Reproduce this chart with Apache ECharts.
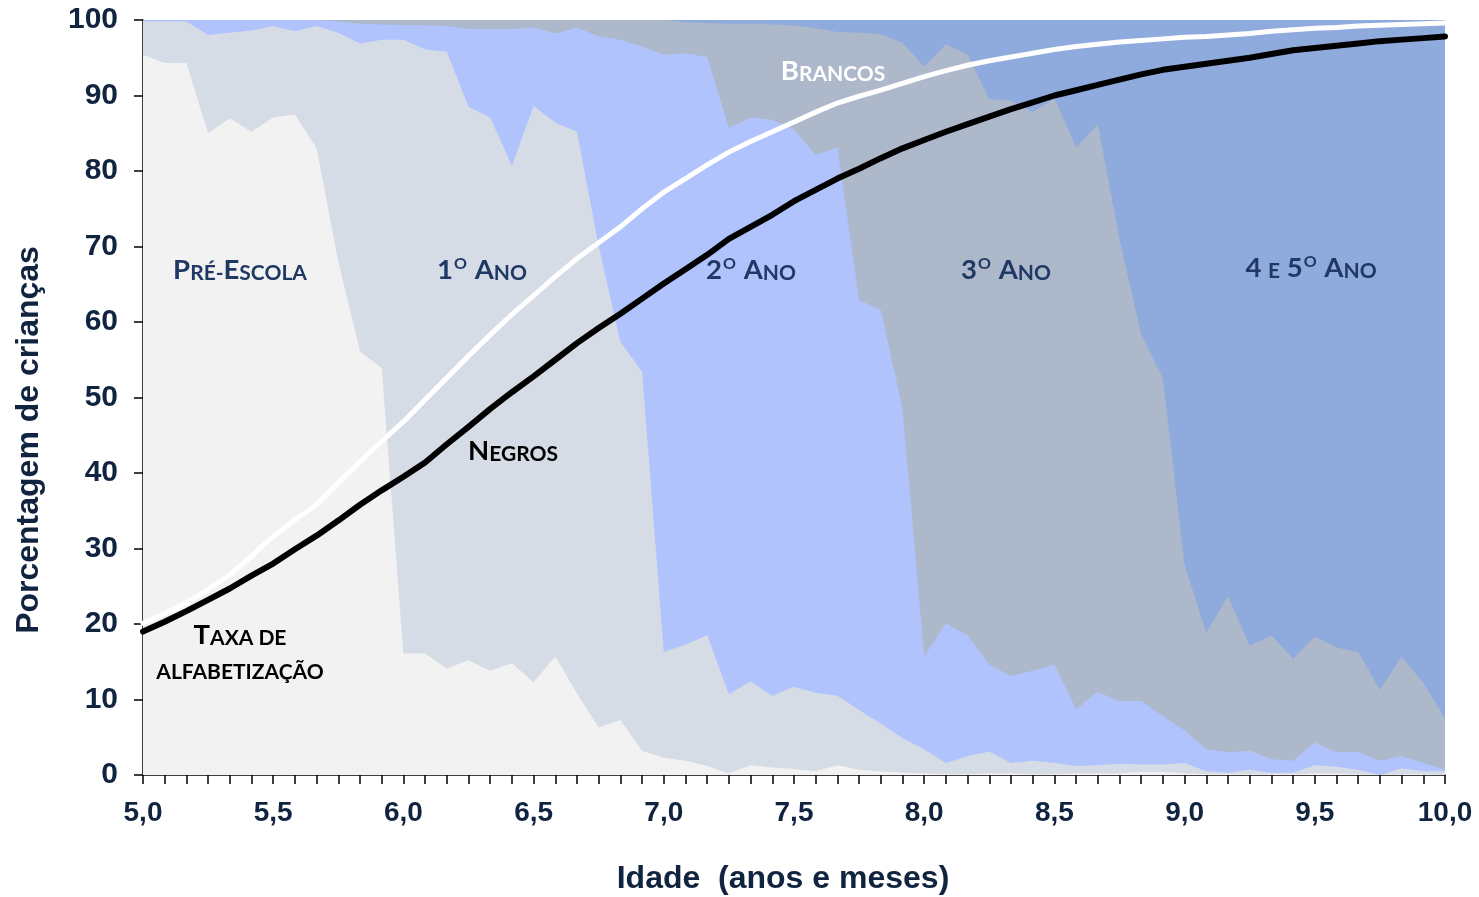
<!DOCTYPE html>
<html><head><meta charset="utf-8">
<script src="https://cdn.jsdelivr.net/npm/echarts@6/dist/echarts.min.js"></script>
<style>html,body{margin:0;padding:0;background:#fff}#c{width:1479px;height:897px}</style>
</head><body><div id="c"></div>
<script>
// Age in months (5,0 .. 10,0 years), one point per month
const ageMonths = [60,61,62,63,64,65,66,67,68,69,70,71,72,73,74,75,76,77,78,79,80,81,82,83,84,85,86,87,88,89,90,
  91,92,93,94,95,96,97,98,99,100,101,102,103,104,105,106,107,108,109,110,111,112,113,114,115,116,117,118,119,120];
const tickLabels = ['5,0','5,5','6,0','6,5','7,0','7,5','8,0','8,5','9,0','9,5','10,0'];
const yTicks = [0,10,20,30,40,50,60,70,80,90,100];

// Cumulative upper boundary (%) of each school level
const preEscolaTop = [95.4,94.3,94.3,85.0,87.0,85.2,87.1,87.5,83.0,68.0,
  56.1,53.9,16.1,16.1,14.1,15.2,13.8,14.8,12.3,15.7,
  10.8,6.3,7.3,3.2,2.3,1.9,1.2,0.2,1.3,1.0,
  0.8,0.5,1.3,0.7,0.5,0.3,0.2,0.1,0.1,0.2,
  0.2,0.1,0.1,0.2,0.2,0.2,0.4,0.4,0.2,0.1,
  0.1,0.1,0.1,0.1,0.2,0.2,0.1,0.0,0.1,0.1,0.1];
const ano1Top = [99.8,99.8,99.8,98.0,98.3,98.6,99.2,98.5,99.2,98.3,
  96.9,97.4,97.4,96.1,95.8,88.5,87.1,80.7,88.6,86.4,
  85.2,70.0,57.4,53.4,16.3,17.3,18.5,10.7,12.4,10.5,
  11.7,10.9,10.5,8.6,6.8,4.9,3.4,1.6,2.5,3.1,
  1.6,1.9,1.6,1.2,1.3,1.5,1.4,1.4,1.6,0.5,
  0.3,0.7,0.3,0.3,1.3,1.1,0.7,0.0,0.9,0.5,0.5];
const ano2Top = [100,100,100,100,100,100,100,100,100,99.8,
  99.5,99.4,99.3,99.3,99.2,98.8,98.8,98.8,99.0,98.2,
  99.0,97.8,97.4,96.5,95.4,95.6,95.1,85.7,87.1,86.8,
  85.5,82.1,83.1,62.9,61.6,48.5,15.7,20.1,18.5,14.6,
  13.1,13.8,14.6,8.7,11.0,9.8,9.8,7.8,5.9,3.4,
  3.0,3.2,2.1,1.9,4.3,3.0,3.0,1.9,2.5,1.6,0.7];
const ano3Top = [100,100,100,100,100,100,100,100,100,100,
  100,100,100,100,100,100,100,100,100,100,
  100,100,100,100,100,99.7,99.6,99.5,99.5,99.4,
  99.3,98.9,98.4,98.3,98.1,97.0,93.8,96.8,95.4,89.5,
  89.3,87.8,89.6,83.1,86.2,70.9,58.3,52.5,27.8,18.8,
  23.7,17.1,18.5,15.4,18.3,16.9,16.3,11.3,15.7,12.2,7.5];
const ano45Top = ageMonths.map(() => 100);

// Literacy rate (%)
const brancos = [20.1,21.4,22.8,24.6,26.5,29.0,31.6,33.8,35.8,38.7,
  41.5,44.2,46.8,49.7,52.6,55.5,58.3,61.0,63.5,66.0,
  68.4,70.5,72.6,75.0,77.2,79.0,80.8,82.5,83.9,85.2,
  86.5,87.8,89.0,89.9,90.7,91.6,92.5,93.3,94.0,94.6,
  95.1,95.6,96.1,96.5,96.8,97.1,97.3,97.5,97.7,97.8,
  98.0,98.2,98.5,98.7,98.9,99.0,99.2,99.3,99.4,99.5,99.6];
const negros = [19.0,20.3,21.7,23.2,24.7,26.4,28.0,29.9,31.7,33.7,
  35.8,37.7,39.5,41.4,43.8,46.1,48.5,50.7,52.8,55.0,
  57.2,59.2,61.1,63.1,65.1,67.0,68.9,71.0,72.6,74.2,
  76.0,77.5,79.0,80.3,81.7,83.0,84.1,85.2,86.2,87.2,
  88.2,89.1,90.0,90.7,91.4,92.1,92.8,93.4,93.8,94.2,
  94.6,95.0,95.5,96.0,96.3,96.6,96.9,97.2,97.4,97.6,97.8];

const TXT = '#10233f';
const LBL = '#1f3864';
const LF = 'Lato, "Open Sans", sans-serif';
const AF = '"Liberation Sans", Arial, sans-serif';

function rich(color) {
  return {
    c: {fill: color, fontSize: 27.5, fontWeight: 'bold', fontFamily: LF, verticalAlign: 'bottom'},
    s: {fill: color, fontSize: 21, fontWeight: 'bold', fontFamily: LF, verticalAlign: 'bottom'},
    u: {fill: color, fontSize: 16, fontWeight: 'bold', fontFamily: LF, verticalAlign: 'top', padding: [0, 1, 0, 1]}
  };
}
function lbl(x, y, text, color) {
  return {type: 'text', x: x, y: y, z: 100, silent: true,
    style: {text: text, align: 'center', verticalAlign: 'middle', rich: rich(color)}};
}

function area(name, data, color) {
  return {name: name, type: 'line', data: data, showSymbol: false, silent: true,
    lineStyle: {width: 0}, areaStyle: {color: color, opacity: 1}, itemStyle: {color: color}};
}

const chart = echarts.init(document.getElementById('c'), null, {renderer: 'canvas'});
chart.setOption({
  animation: false,
  backgroundColor: '#ffffff',
  grid: {left: 143, right: 34, top: 20, bottom: 122, containLabel: false},
  xAxis: {
    type: 'category', data: ageMonths, boundaryGap: false,
    axisLine: {show: true, lineStyle: {color: '#000', width: 1.5}},
    axisTick: {show: true, interval: 0, length: 9, lineStyle: {color: '#000', width: 1.5}},
    axisLabel: {interval: 5, margin: 24, color: TXT, fontSize: 28, fontWeight: 'bold', fontFamily: AF,
      formatter: (v, i) => tickLabels[i / 6] || ''},
    splitLine: {show: false}
  },
  yAxis: {
    type: 'value', min: 0, max: 100, interval: 10,
    axisLine: {show: true, lineStyle: {color: '#000', width: 1.5}},
    axisTick: {show: true, length: 9, lineStyle: {color: '#000', width: 1.5}},
    axisLabel: {margin: 25, color: TXT, fontSize: 30, fontWeight: 'bold', fontFamily: AF,
      formatter: v => yTicks.indexOf(v) >= 0 ? String(v) : ''},
    splitLine: {show: false}
  },
  series: [
    area('4 e 5º Ano', ano45Top, '#8faadc'),
    area('3º Ano', ano3Top, '#adb9ca'),
    area('2º Ano', ano2Top, '#b0c3fd'),
    area('1º Ano', ano1Top, '#d6dce5'),
    area('Pré-Escola', preEscolaTop, '#f2f2f2'),
    {name: 'Brancos', type: 'line', data: brancos, showSymbol: false, silent: true, z: 5,
      lineStyle: {color: '#ffffff', width: 5, cap: 'round', join: 'round'}},
    {name: 'Negros', type: 'line', data: negros, showSymbol: false, silent: true, z: 6,
      lineStyle: {color: '#000000', width: 6, cap: 'round', join: 'round'}}
  ],
  graphic: [
    lbl(240, 270, '{c|P}{s|RÉ-}{c|E}{s|SCOLA}', LBL),
    lbl(482, 270, '{c|1}{u|O}{c| A}{s|NO}', LBL),
    lbl(751, 270, '{c|2}{u|O}{c| A}{s|NO}', LBL),
    lbl(1006, 270, '{c|3}{u|O}{c| A}{s|NO}', LBL),
    lbl(1311, 268, '{c|4 }{s|E}{c| 5}{u|O}{c| A}{s|NO}', LBL),
    lbl(833, 71, '{c|B}{s|RANCOS}', '#ffffff'),
    lbl(513, 451, '{c|N}{s|EGROS}', '#000000'),
    lbl(240, 635, '{c|T}{s|AXA DE}', '#000000'),
    lbl(240, 672, '{s|ALFABETIZAÇÃO}', '#000000'),
    {type: 'text', x: 29, y: 440, rotation: Math.PI / 2, silent: true,
      style: {text: 'Porcentagem de crianças', align: 'center', verticalAlign: 'middle',
        fill: TXT, fontSize: 32, fontWeight: 'bold', fontFamily: AF}},
    {type: 'text', x: 783, y: 879, silent: true,
      style: {text: 'Idade  (anos e meses)', align: 'center', verticalAlign: 'middle',
        fill: TXT, fontSize: 32, fontWeight: 'bold', fontFamily: AF}}
  ]
});
</script></body></html>
